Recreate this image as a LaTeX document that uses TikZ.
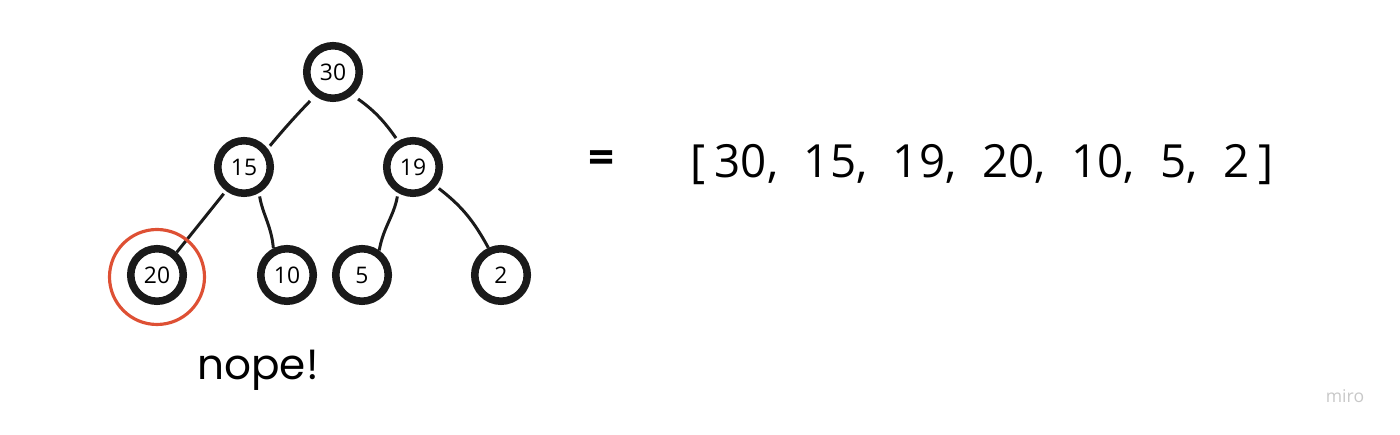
\documentclass[tikz,border=0pt]{standalone}
\usepackage{fontspec}
\setmainfont{Open Sans}
\newfontfamily\nopefont{Poppins}
\usetikzlibrary{positioning}
\definecolor{ring}{RGB}{26,26,26}
\definecolor{mark}{RGB}{222,80,52}
\definecolor{logo}{RGB}{200,200,200}
\tikzset{%
  heap node/.style={circle, draw=ring, line width=4.3pt, fill=white,
    minimum size=1.05cm, inner sep=0pt, font=\fontsize{13}{13}\selectfont},
  link/.style={line width=1.7pt, draw=ring}% tree edge
}
\begin{document}
\begin{tikzpicture}
\useasboundingbox (0,0) rectangle (28,8.7);
\node[heap node] (n30) at (6.66, 7.26) {30};
\node[heap node] (n15) at (4.88, 5.36) {15};
\node[heap node] (n19) at (8.26, 5.36) {19};
\node[heap node] (n20) at (3.14, 3.20) {20};
\node[heap node] (n10) at (5.74, 3.20) {10};
\node[heap node] (n5) at (7.24, 3.20) {5};
\node[heap node] (n2) at (10.02, 3.20) {2};
\path (n30.-127) edge[link, shorten <=4pt, shorten >=2pt, bend right=2] (n15.38);
\path (n30.-50) edge[link, shorten <=4pt, shorten >=2pt, bend left=10] (n19.120);
\path (n15.-127) edge[link, shorten <=2pt] (n20.49);
\path (n15.-60) edge[link, shorten <=2pt, out=-80, in=95] (n10.117);
\path (n19.-120) edge[link, shorten <=2pt, out=-100, in=80] (n5.55);
\path (n19.-40) edge[link, shorten <=2pt, bend left=12] (n2.115);
\node[circle, draw=mark, line width=1.8pt, minimum size=1.9cm] (miss) at (3.14, 3.16) {};
\node[font=\nopefont\fontsize{24}{24}\selectfont] (nope) at (5.16, 1.30) {nope!};
\node[font=\fontsize{26}{26}\selectfont\bfseries] (eq) at (12.04, 5.46) {=};
\node[font=\fontsize{26}{26}\selectfont] (arr) at (19.64, 5.40)
  {[\hspace{0.2em}30,\hspace{0.56em}15,\hspace{0.56em}19,\hspace{0.56em}20,\hspace{0.56em}10,\hspace{0.56em}5,\hspace{0.56em}2\hspace{0.2em}]};
\node[font=\fontsize{10}{10}\selectfont, text=logo] (miro) at (26.9, 0.78) {miro};
\end{tikzpicture}
\end{document}
